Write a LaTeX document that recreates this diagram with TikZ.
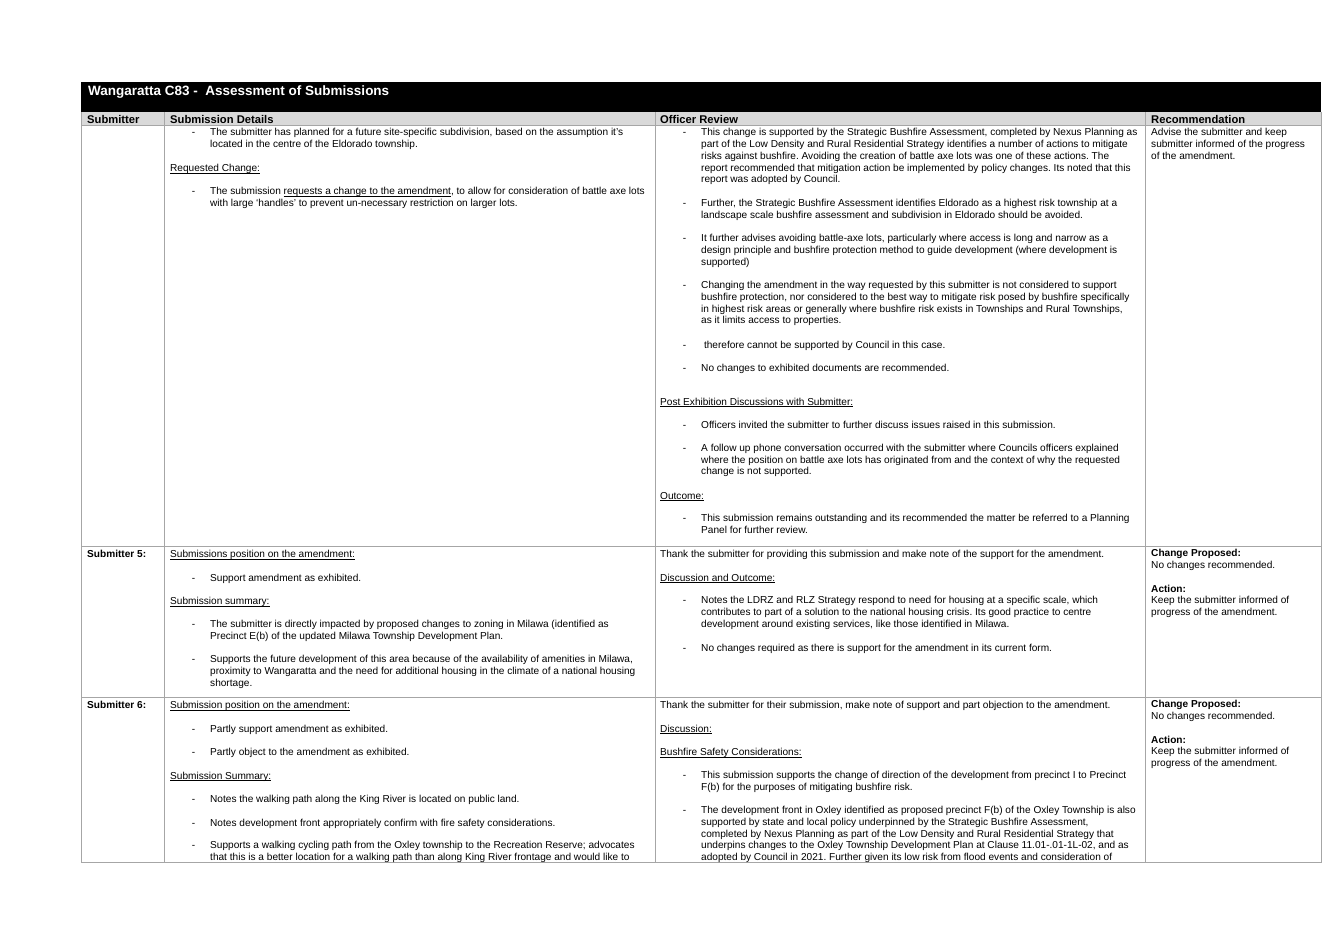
\documentclass[tikz,border=0pt]{standalone}
\usepackage{fontspec}
\setmainfont{Liberation Sans}
\frenchspacing
\newcommand\bodyf{\fontsize{10.1pt}{11.75pt}\selectfont\frenchspacing}
\newcommand\ulin[1]{\setbox0\hbox{#1}\rlap{\rule[-1.7pt]{\wd0}{0.5pt}}\box0}
\newcommand\dsh{\llap{-\hspace{15pt}}}
\definecolor{gridgray}{HTML}{A6A6A6}
\definecolor{hdrgray}{HTML}{D9D9D9}
\tikzset{
  para/.style={anchor=north west, inner sep=0pt, align=left, font=\bodyf, yshift=5.2pt, execute at begin node=\strut},
  parab/.style={para, font=\bodyf\bfseries},
  colhead/.style={anchor=base west, inner sep=0pt, font=\fontsize{11.2pt}{12pt}\selectfont\bfseries},
  gridline/.style={draw=gridgray, line width=0.9pt},
}
\begin{document}
\begin{tikzpicture}[x=1pt,y=-1pt]
\useasboundingbox (0,0) rectangle (1340,948);
\fill[white] (0,0) rectangle (1340,948);
% table frame
\fill[black] (81,82) rectangle (1321,112);
\fill[hdrgray] (81,112) rectangle (1321,125);
\draw[gridline] (81,112) -- (81,862) -- (1321,862) -- (1321,112);
\draw[gridline] (81,125) -- (1321,125) (81,546) -- (1321,546) (81,697) -- (1321,697);
\draw[gridline] (164,112) -- (164,862) (655,112) -- (655,862) (1145,112) -- (1145,862);
% title
\node[anchor=base west, inner sep=0pt, text=white, font=\fontsize{13.5pt}{15pt}\selectfont\bfseries] (title) at (88,95) {Wangaratta C83 -\ \ Assessment of Submissions};
\node[colhead] (hsub) at (87,123.5) {Submitter};
\node[colhead] (hdet) at (170,123.5) {Submission Details};
\node[colhead] (hrev) at (660,123.5) {Officer Review};
\node[colhead] (hrec) at (1151,123.5) {Recommendation};
% ---------- row 1 ----------
\node[para] (r1d1) at (210,133.5) {\dsh The submitter has planned for a future site-specific subdivision, based on the assumption it’s\\located in the centre of the Eldorado township.};
\node[para] (r1d2) at (170,168.75) {\ulin{Requested Change:}};
\node[para] (r1d3) at (210,192.25) {\dsh The submission \ulin{requests a change to the amendment}, to allow for consideration of battle axe lots\\with large ‘handles’ to prevent un-necessary restriction on larger lots.};
\node[para] (r1o1) at (701,133.5) {\dsh This change is supported by the Strategic Bushfire Assessment, completed by Nexus Planning as\\part of the Low Density and Rural Residential Strategy identifies a number of actions to mitigate\\risks against bushfire. Avoiding the creation of battle axe lots was one of these actions. The\\report recommended that mitigation action be implemented by policy changes. Its noted that this\\report was adopted by Council.};
\node[para] (r1o2) at (701,204) {\dsh Further, the Strategic Bushfire Assessment identifies Eldorado as a highest risk township at a\\landscape scale bushfire assessment and subdivision in Eldorado should be avoided.};
\node[para] (r1o3) at (701,239.25) {\dsh It further advises avoiding battle-axe lots, particularly where access is long and narrow as a\\design principle and bushfire protection method to guide development (where development is\\supported)};
\node[para] (r1o4) at (701,286.25) {\dsh Changing the amendment in the way requested by this submitter is not considered to support\\bushfire protection, nor considered to the best way to mitigate risk posed by bushfire specifically\\in highest risk areas or generally where bushfire risk exists in Townships and Rural Townships,\\as it limits access to properties.};
\node[para] (r1o5) at (701,345) {\dsh\ therefore cannot be supported by Council in this case.};
\node[para] (r1o6) at (701,368.5) {\dsh No changes to exhibited documents are recommended.};
\node[para] (r1o7) at (660,402) {\ulin{Post Exhibition Discussions with Submitter:}};
\node[para] (r1o8) at (701,425.5) {\dsh Officers invited the submitter to further discuss issues raised in this submission.};
\node[para] (r1o9) at (701,449) {\dsh A follow up phone conversation occurred with the submitter where Councils officers explained\\where the position on battle axe lots has originated from and the context of why the requested\\change is not supported.};
\node[para] (r1o10) at (660,496) {\ulin{Outcome:}};
\node[para] (r1o11) at (701,519.5) {\dsh This submission remains outstanding and its recommended the matter be referred to a Planning\\Panel for further review.};
\node[para] (r1rec) at (1151,133.5) {Advise the submitter and keep\\submitter informed of the progress\\of the amendment.};
% ---------- row 2 ----------
\node[parab] (r2s) at (87,554.5) {Submitter 5:};
\node[para] (r2d1) at (170,554.5) {\ulin{Submissions position on the amendment:}};
\node[para] (r2d2) at (210,578) {\dsh Support amendment as exhibited.};
\node[para] (r2d3) at (170,601.5) {\ulin{Submission summary:}};
\node[para] (r2d4) at (210,625) {\dsh The submitter is directly impacted by proposed changes to zoning in Milawa (identified as\\Precinct E(b) of the updated Milawa Township Development Plan.};
\node[para] (r2d5) at (210,660.25) {\dsh Supports the future development of this area because of the availability of amenities in Milawa,\\proximity to Wangaratta and the need for additional housing in the climate of a national housing\\shortage.};
\node[para] (r2o1) at (660,554.5) {Thank the submitter for providing this submission and make note of the support for the amendment.};
\node[para] (r2o2) at (660,578) {\ulin{Discussion and Outcome:}};
\node[para] (r2o3) at (701,601.5) {\dsh Notes the LDRZ and RLZ Strategy respond to need for housing at a specific scale, which\\contributes to part of a solution to the national housing crisis. Its good practice to centre\\development around existing services, like those identified in Milawa.};
\node[para] (r2o4) at (701,648.5) {\dsh No changes required as there is support for the amendment in its current form.};
\node[para] (r2rec) at (1151,554.5) {\textbf{Change Proposed:}\\No changes recommended.\\[11.75pt]\textbf{Action:}\\Keep the submitter informed of\\progress of the amendment.};
% ---------- row 3 ----------
\node[parab] (r3s) at (87,705.5) {Submitter 6:};
\node[para] (r3d1) at (170,705.5) {\ulin{Submission position on the amendment:}};
\node[para] (r3d2) at (210,729) {\dsh Partly support amendment as exhibited.};
\node[para] (r3d3) at (210,752.5) {\dsh Partly object to the amendment as exhibited.};
\node[para] (r3d4) at (170,776) {\ulin{Submission Summary:}};
\node[para] (r3d5) at (210,799.5) {\dsh Notes the walking path along the King River is located on public land.};
\node[para] (r3d6) at (210,823) {\dsh Notes development front appropriately confirm with fire safety considerations.};
\node[para] (r3d7) at (210,846.5) {\dsh Supports a walking cycling path from the Oxley township to the Recreation Reserve; advocates\\that this is a better location for a walking path than along King River frontage and would like to};
\node[para] (r3o1) at (660,705.5) {Thank the submitter for their submission, make note of support and part objection to the amendment.};
\node[para] (r3o2) at (660,729) {\ulin{Discussion:}};
\node[para] (r3o3) at (660,752.5) {\ulin{Bushfire Safety Considerations:}};
\node[para] (r3o4) at (701,776) {\dsh This submission supports the change of direction of the development from precinct I to Precinct\\F(b) for the purposes of mitigating bushfire risk.};
\node[para] (r3o5) at (701,811.25) {\dsh The development front in Oxley identified as proposed precinct F(b) of the Oxley Township is also\\supported by state and local policy underpinned by the Strategic Bushfire Assessment,\\completed by Nexus Planning as part of the Low Density and Rural Residential Strategy that\\underpins changes to the Oxley Township Development Plan at Clause 11.01-.01-1L-02, and as\\adopted by Council in 2021. Further given its low risk from flood events and consideration of};
\node[para] (r3rec) at (1151,705.5) {\textbf{Change Proposed:}\\No changes recommended.\\[11.75pt]\textbf{Action:}\\Keep the submitter informed of\\progress of the amendment.};
\end{tikzpicture}
\end{document}
